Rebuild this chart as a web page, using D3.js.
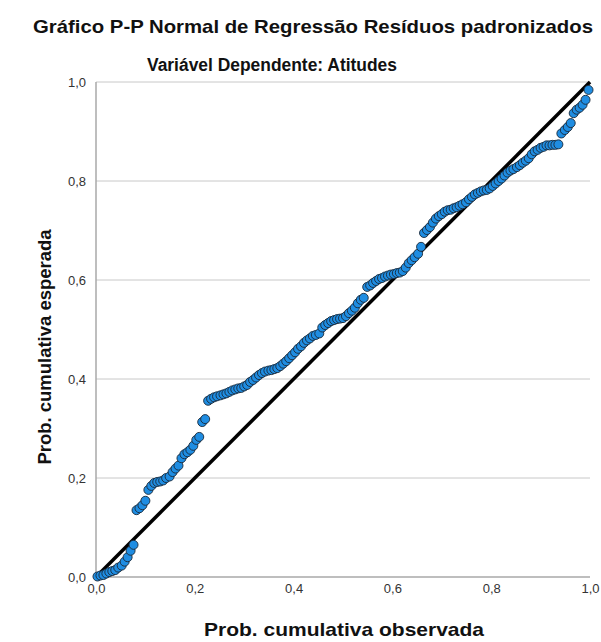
<!DOCTYPE html>
<html><head><meta charset="utf-8">
<script src="https://cdn.jsdelivr.net/npm/d3@7"></script>
<style>
body{margin:0;background:#fff;}
text{font-family:"Liberation Sans",Arial,sans-serif;}
</style></head>
<body><svg id="chart" width="601" height="642"></svg>
<script>
const title = "Gráfico P-P Normal de Regressão Resíduos padronizados";
const subtitle = "Variável Dependente: Atitudes";
const xTitle = "Prob. cumulativa observada";
const yTitle = "Prob. cumulativa esperada";
const tickValues = [0, 0.2, 0.4, 0.6, 0.8, 1.0];
const tickLabels = ["0,0", "0,2", "0,4", "0,6", "0,8", "1,0"];
const diagonal = [[0, 0], [1, 1]];

const observed = [
.003,.009,.015,.021,.027,.033,.039,.045,.052,.058,
.064,.070,.076,.082,.088,.094,.100,.106,.112,.118,
.124,.130,.136,.142,.149,.155,.161,.167,.173,.179,
.185,.191,.197,.203,.209,.215,.221,.227,.233,.239,
.245,.252,.258,.264,.270,.276,.282,.288,.294,.300,
.306,.312,.318,.324,.330,.336,.342,.349,.355,.361,
.367,.373,.379,.385,.391,.397,.403,.409,.415,.421,
.427,.433,.439,.445,.452,.458,.464,.470,.476,.482,
.488,.494,.500,.506,.512,.518,.524,.530,.536,.542,
.549,.555,.561,.567,.573,.579,.585,.591,.597,.603,
.609,.615,.621,.627,.633,.639,.645,.652,.658,.664,
.670,.676,.682,.688,.694,.700,.706,.712,.718,.724,
.730,.736,.742,.749,.755,.761,.767,.773,.779,.785,
.791,.797,.803,.809,.815,.821,.827,.833,.839,.845,
.852,.858,.864,.870,.876,.882,.888,.894,.900,.906,
.912,.918,.924,.930,.936,.942,.949,.955,.961,.967,
.973,.979,.985,.991,.997
];
const expected = [
.001,.003,.004,.007,.010,.012,.014,.019,.023,.031,
.040,.053,.065,.135,.139,.145,.154,.176,.184,.190,
.192,.193,.195,.200,.203,.212,.219,.225,.240,.248,
.252,.257,.265,.277,.283,.313,.319,.356,.360,.363,
.365,.367,.369,.371,.374,.377,.379,.381,.382,.385,
.388,.394,.398,.403,.408,.412,.415,.417,.418,.420,
.422,.426,.431,.436,.442,.448,.454,.461,.466,.473,
.478,.482,.487,.489,.492,.504,.509,.513,.517,.519,
.521,.522,.523,.527,.533,.538,.544,.553,.560,.564,
.586,.589,.594,.598,.602,.604,.607,.609,.611,.612,
.614,.615,.618,.625,.634,.640,.646,.653,.667,.695,
.701,.707,.716,.724,.729,.733,.738,.741,.742,.745,
.747,.750,.753,.757,.763,.768,.773,.776,.779,.781,
.782,.785,.790,.795,.800,.805,.811,.817,.821,.824,
.828,.832,.837,.841,.846,.854,.860,.863,.867,.869,
.872,.872,.873,.873,.874,.896,.903,.909,.917,.937,
.944,.948,.954,.964,.984
];

const svg = d3.select("#chart");
const pLeft = 96, pRight = 590, pTop = 82, pBottom = 577;
const x = d3.scaleLinear().domain([0, 1]).range([pLeft, pRight]);
const y = d3.scaleLinear().domain([0, 1]).range([pBottom, pTop]);

// gridlines
svg.append("g").selectAll("line").data(tickValues.slice(1)).join("line")
  .attr("x1", pLeft).attr("x2", pRight)
  .attr("y1", d => y(d)).attr("y2", d => y(d))
  .attr("stroke", "#c8c8c8").attr("stroke-width", 1);

// axes lines
svg.append("line").attr("x1", pLeft).attr("x2", pRight).attr("y1", pBottom).attr("y2", pBottom)
  .attr("stroke", "#a8a8a8").attr("stroke-width", 1.5);
svg.append("line").attr("x1", pLeft).attr("x2", pLeft).attr("y1", pTop).attr("y2", pBottom)
  .attr("stroke", "#a8a8a8").attr("stroke-width", 1.5);

// tick labels via axes
const yAxis = d3.axisLeft(y).tickValues(tickValues).tickFormat((d, i) => tickLabels[i]).tickSize(0).tickPadding(10);
const gy = svg.append("g").attr("transform", `translate(${pLeft},0)`).call(yAxis);
gy.select(".domain").remove();
gy.selectAll("text").attr("font-size", 13).attr("fill", "#333").attr("font-family", "Liberation Sans, Arial, sans-serif");

const xAxis = d3.axisBottom(x).tickValues(tickValues).tickFormat((d, i) => tickLabels[i]).tickSize(0).tickPadding(7);
const gx = svg.append("g").attr("transform", `translate(0,${pBottom})`).call(xAxis);
gx.select(".domain").remove();
gx.selectAll("text").attr("font-size", 13).attr("fill", "#333").attr("font-family", "Liberation Sans, Arial, sans-serif");

// diagonal reference line
svg.append("path").datum(diagonal)
  .attr("d", d3.line().x(d => x(d[0])).y(d => y(d[1])))
  .attr("stroke", "#000").attr("stroke-width", 3.5).attr("fill", "none");

// points
const pts = observed.map((o, i) => ({o, e: expected[i]}));
svg.append("g").selectAll("circle").data(pts).join("circle")
  .attr("cx", d => x(d.o)).attr("cy", d => y(d.e)).attr("r", 4.5)
  .attr("fill", "#1f8de2").attr("stroke", "#1a2838").attr("stroke-width", 0.9);

// titles
svg.append("text").attr("x", 313).attr("y", 33).attr("text-anchor", "middle")
  .attr("font-size", 19).attr("font-weight", "bold").attr("fill", "#111")
  .attr("textLength", 560).attr("lengthAdjust", "spacingAndGlyphs").text(title);
svg.append("text").attr("x", 272).attr("y", 71).attr("text-anchor", "middle")
  .attr("font-size", 18).attr("font-weight", "bold").attr("fill", "#111")
  .attr("textLength", 250).attr("lengthAdjust", "spacingAndGlyphs").text(subtitle);
svg.append("text").attr("x", 344).attr("y", 636).attr("text-anchor", "middle")
  .attr("font-size", 19).attr("font-weight", "bold").attr("fill", "#111")
  .attr("textLength", 280).attr("lengthAdjust", "spacingAndGlyphs").text(xTitle);
svg.append("text").attr("transform", "translate(51,347) rotate(-90)").attr("text-anchor", "middle")
  .attr("font-size", 19).attr("font-weight", "bold").attr("fill", "#111")
  .attr("textLength", 235).attr("lengthAdjust", "spacingAndGlyphs").text(yTitle);
</script></body></html>
